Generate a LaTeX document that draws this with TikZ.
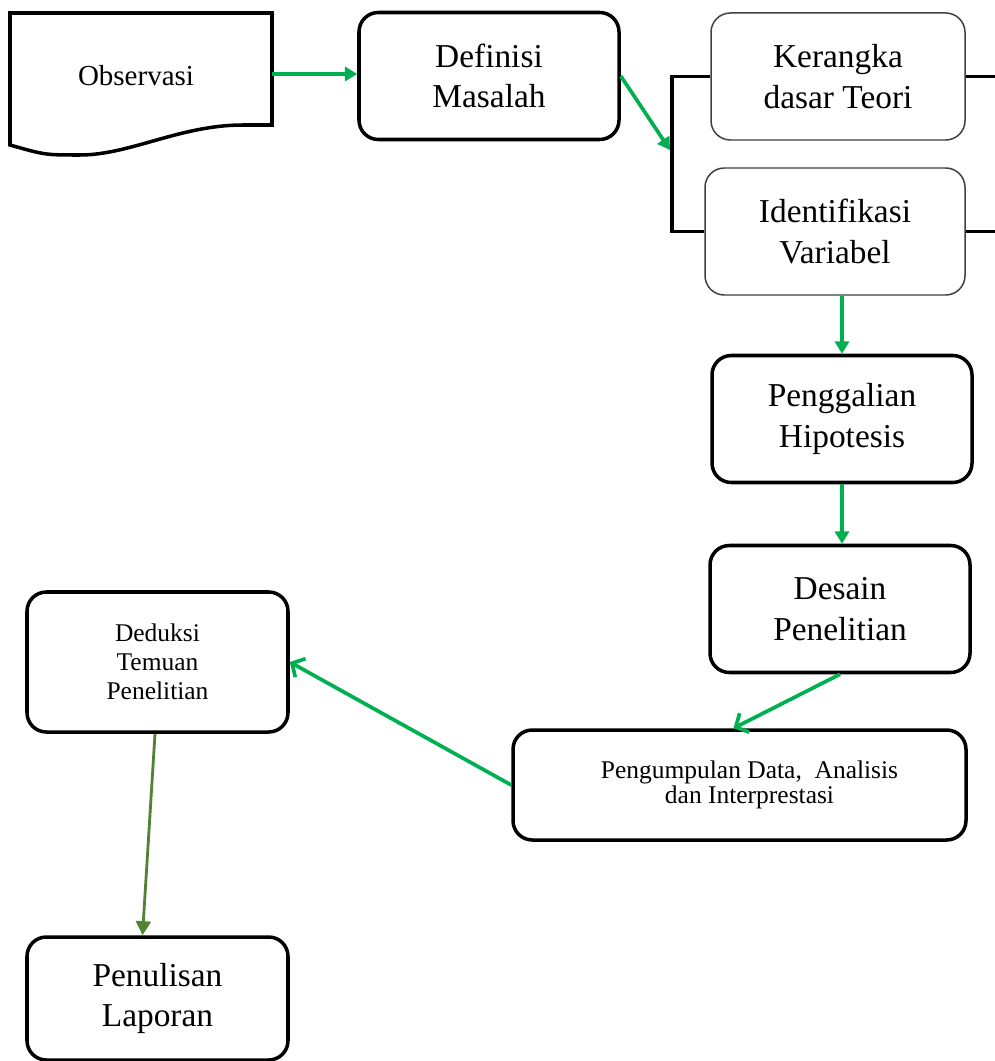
\documentclass[tikz,border=0pt]{standalone}
\usepackage{fontspec}
\setmainfont{Liberation Serif}
\usetikzlibrary{arrows.meta}

\definecolor{hijau}{HTML}{00B050}
\definecolor{hijautua}{HTML}{548235}

\tikzset{
  kotak/.style={draw, line width=2pt, rounded corners=11pt, minimum width=5.2cm,
    minimum height=2.54cm, align=center, font=\fontsize{19}{23}\selectfont},
  kotaktipis/.style={kotak, draw=black!75, line width=0.85pt},
  panah/.style={draw=hijau, line width=2.1pt, -{Triangle[length=7pt,width=8pt]}},
  panahbuka/.style={draw=hijau, line width=2.1pt, -{Straight Barb[length=5.5pt,width=12pt]}},
  kurung/.style={line width=2pt}
}

\begin{document}
\begin{tikzpicture}
    \useasboundingbox (0,0) rectangle (19.9,-21.22);
    \fill[white] (0,0) rectangle (19.9,-21.22);

    %Observasi (document shape)
    \draw[line width=2pt] (0.2,-2.9) -- (0.2,-0.26) -- (5.44,-0.26) -- (5.44,-2.5) -- (4.86,-2.5)
        .. controls (3.6,-2.5) and (2.6,-3.1) .. (1.6,-3.1)
        .. controls (0.9,-3.1) .. (0.2,-2.9) -- cycle;
    \node[font=\fontsize{16.5}{19}\selectfont] (obs) at (2.72,-1.52) {Observasi};
    \coordinate (obsR) at (5.44,-1.48);

    \node[kotak] (def) at (9.78,-1.52) {Definisi\\Masalah};
    \node[kotaktipis, minimum width=5.08cm] (ker) at (16.76,-1.53) {Kerangka\\dasar Teori};
    \node[kotaktipis] (idf) at (16.7,-4.63) {Identifikasi\\Variabel};
    \node[kotak] (hip) at (16.84,-8.38) {Penggalian\\Hipotesis};
    \node[kotak] (des) at (16.8,-12.18) {Desain\\Penelitian};
    \node[kotak, minimum width=9.06cm, minimum height=2.2cm,
        font=\fontsize{14.5}{14.5}\selectfont] (kum) at (14.79,-15.7)
        {\hspace*{0.4cm}Pengumpulan Data,\ \ Analisis\\\hspace*{0.4cm}dan Interprestasi};
    \node[kotak, minimum width=5.22cm, minimum height=2.8cm,
        font=\fontsize{14.5}{16.5}\selectfont] (ded) at (3.15,-13.24)
        {Deduksi\\Temuan\\Penelitian};
    \node[kotak, minimum width=5.22cm, minimum height=2.46cm] (lap) at (3.15,-19.97)
        {Penulisan\\Laporan};

    %bracket
    \coordinate (kiri) at (13.44,0);
    \coordinate (masuk) at (13.4,-3.0);
    \draw[kurung] (ker.west) -| (kiri |- idf.west) -- (idf.west);
    \draw[kurung] (ker.east) -- ++(1,0);
    \draw[kurung] (idf.east) -- ++(1,0);

    %arrows
    \draw[panah] (obsR) -- (obsR -| def.west);
    \draw[panah] (def.east) -- (masuk);
    \draw[panah] (hip.north |- idf.south) -- (hip.north);
    \draw[panah] (hip.south) -- (hip.south |- des.north);
    \draw[panahbuka] (des.south) -- ([xshift=-0.12cm]kum.north);
    \draw[panahbuka] (kum.west) -- (ded.east);
    \draw[draw=hijautua, line width=1.6pt, -{Triangle[length=8pt,width=8.5pt]}]
        ([xshift=-0.05cm]ded.south) -- ([xshift=-0.3cm]lap.north);
\end{tikzpicture}
\end{document}
